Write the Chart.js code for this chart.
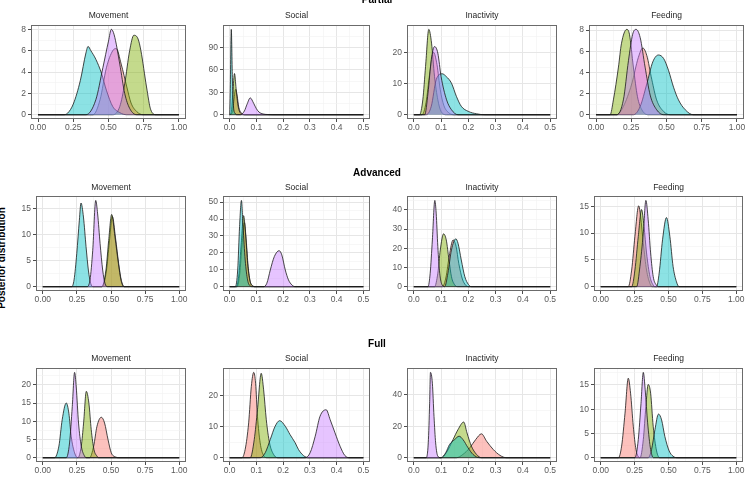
<!DOCTYPE html>
<html>
<head>
<meta charset="utf-8">
<script src="https://cdn.jsdelivr.net/npm/chart.js@4.4.1/dist/chart.umd.min.js"></script>
<style>
  body { margin: 0; background: #fff; width: 752px; height: 501px; overflow: hidden; position: relative;
         font-family: "Liberation Sans", Arial, sans-serif; }
  .panel { position: absolute; }
  .lbl { position: absolute; transform: translate(-50%, -50%); white-space: nowrap; }
</style>
</head>
<body>
<script>
// ---- data: posterior densities, [x, density] ----
const stages = ["Partial", "Advanced", "Full"];
const behaviours = ["Movement", "Social", "Inactivity", "Feeding"];
const groups = ["red", "green", "cyan", "purple"];

const partialMovement = {
  red:    [[0,0],[0.39,0],[0.44,1.4],[0.485,4.4],[0.53,6.0],[0.555,6.2],[0.59,4.75],[0.63,2.6],[0.66,1.1],[0.70,0.3],[0.745,0],[1,0]],
  green:  [[0,0],[0.53,0],[0.58,0.77],[0.615,2.9],[0.65,6.0],[0.68,7.45],[0.71,7.1],[0.73,6.0],[0.77,2.6],[0.80,0.46],[0.84,0],[1,0]],
  cyan:   [[0,0],[0.18,0],[0.21,0.15],[0.25,1.0],[0.30,3.2],[0.34,5.8],[0.355,6.4],[0.375,6.0],[0.41,5.2],[0.45,3.9],[0.485,2.3],[0.53,0.77],[0.58,0.2],[0.63,0],[1,0]],
  purple: [[0,0],[0.34,0],[0.41,1.4],[0.46,4.4],[0.50,6.9],[0.52,8.0],[0.54,7.5],[0.58,4.75],[0.615,2.0],[0.65,0.6],[0.70,0],[1,0]]
};
const partialSocial = {
  red:    [[0,0],[0.01,3],[0.016,20],[0.022,34],[0.028,25],[0.034,10],[0.042,3],[0.05,0.5],[0.06,0],[0.5,0]],
  green:  [[0,0],[0.006,3],[0.012,30],[0.018,55],[0.024,35],[0.03,15],[0.036,5],[0.045,1],[0.055,0],[0.5,0]],
  cyan:   [[0,0],[0.002,30],[0.006,114],[0.010,50],[0.014,12],[0.02,2],[0.028,0],[0.5,0]],
  purple: [[0,0],[0.04,0],[0.055,5],[0.065,14],[0.077,22.5],[0.09,15],[0.10,8],[0.11,3.5],[0.125,1],[0.14,0.3],[0.16,0],[0.5,0]]
};
const partialInactivity = {
  red:    [[0,0],[0.03,0],[0.045,4],[0.058,13],[0.072,20],[0.085,16],[0.097,8],[0.11,3],[0.13,0.5],[0.15,0],[0.5,0]],
  green:  [[0,0],[0.021,0],[0.033,4.8],[0.043,15.4],[0.055,27.3],[0.065,22.9],[0.076,12.2],[0.088,4.8],[0.10,1.06],[0.12,0],[0.5,0]],
  cyan:   [[0,0],[0.045,0],[0.064,2.7],[0.082,11.2],[0.104,13.1],[0.119,12.2],[0.138,10.1],[0.156,5.9],[0.174,2.7],[0.20,1.06],[0.23,0.3],[0.26,0],[0.5,0]],
  purple: [[0,0],[0.04,0],[0.052,6.9],[0.064,17.6],[0.076,21.8],[0.088,19.7],[0.10,12.2],[0.12,4.8],[0.138,1.6],[0.162,0],[0.5,0]]
};
const partialFeeding = {
  red:    [[0,0],[0.147,0],[0.194,0.78],[0.253,2.9],[0.30,5.4],[0.332,6.3],[0.36,5.6],[0.396,3.3],[0.43,1.4],[0.48,0.3],[0.526,0],[1,0]],
  green:  [[0,0],[0.10,0],[0.123,1.4],[0.159,4.5],[0.18,6.7],[0.218,8.06],[0.237,7.6],[0.265,4.5],[0.294,1.7],[0.325,0.47],[0.37,0],[1,0]],
  cyan:   [[0,0],[0.265,0],[0.313,0.78],[0.36,2.9],[0.403,5.0],[0.443,5.64],[0.48,5.3],[0.514,4.2],[0.55,2.6],[0.585,1.4],[0.633,0.47],[0.69,0],[1,0]],
  purple: [[0,0],[0.147,0],[0.194,1.4],[0.23,5.1],[0.26,7.6],[0.284,8.06],[0.313,7.3],[0.348,4.5],[0.384,1.86],[0.43,0.47],[0.48,0],[1,0]]
};

const advancedMovement = {
  red:    [[0,0],[0.435,0],[0.466,3.0],[0.488,8.6],[0.51,13.5],[0.533,9.4],[0.557,4.3],[0.576,1.2],[0.598,0],[1,0]],
  green:  [[0,0],[0.432,0],[0.463,3.2],[0.483,8.9],[0.505,13.9],[0.529,9.6],[0.554,4.5],[0.573,1.3],[0.595,0],[1,0]],
  cyan:   [[0,0],[0.212,0],[0.229,1.3],[0.249,6.4],[0.268,12.8],[0.28,16.1],[0.298,13.4],[0.317,7.7],[0.334,3.2],[0.351,0.64],[0.37,0],[1,0]],
  purple: [[0,0],[0.322,0],[0.346,1.3],[0.366,7.0],[0.388,16.6],[0.402,14.0],[0.42,8.3],[0.439,3.2],[0.456,0.64],[0.473,0],[1,0]]
};
const advancedSocial = {
  red:    [[0,0],[0.028,0],[0.038,8],[0.046,24],[0.055,38],[0.062,27],[0.069,12],[0.077,3],[0.087,0.4],[0.095,0],[0.5,0]],
  green:  [[0,0],[0.025,0],[0.035,8],[0.043,25],[0.052,42],[0.06,30],[0.067,14],[0.075,4],[0.085,0.5],[0.095,0],[0.5,0]],
  cyan:   [[0,0],[0.021,0],[0.03,9.9],[0.037,35.6],[0.044,51],[0.05,35.6],[0.058,15.8],[0.067,4],[0.077,0.4],[0.085,0],[0.5,0]],
  purple: [[0,0],[0.127,0],[0.139,2],[0.152,9.9],[0.167,17.8],[0.185,21.3],[0.195,18.8],[0.208,9.9],[0.22,4],[0.233,1],[0.245,0],[0.5,0]]
};
const advancedInactivity = {
  red:    [[0,0],[0.105,0],[0.118,5],[0.13,16],[0.144,24.3],[0.155,21],[0.165,12],[0.178,4],[0.19,0.8],[0.2,0],[0.5,0]],
  green:  [[0,0],[0.076,0],[0.088,7],[0.097,19.1],[0.109,27.5],[0.119,24.3],[0.129,13.9],[0.138,5.2],[0.15,0.9],[0.16,0],[0.5,0]],
  cyan:   [[0,0],[0.113,0],[0.125,7],[0.138,19.1],[0.154,24.9],[0.162,22.6],[0.174,13.9],[0.187,5.2],[0.2,1.2],[0.211,0],[0.5,0]],
  purple: [[0,0],[0.052,0],[0.06,7],[0.068,24.3],[0.077,44.9],[0.082,38.3],[0.088,20.9],[0.095,7],[0.104,0.9],[0.115,0],[0.5,0]]
};
const advancedFeeding = {
  red:    [[0,0],[0.203,0],[0.228,3.1],[0.252,9.4],[0.28,15.1],[0.294,13.1],[0.314,8.1],[0.338,3.1],[0.363,0.6],[0.38,0],[1,0]],
  green:  [[0,0],[0.228,0],[0.252,3.1],[0.277,9.4],[0.301,14.4],[0.319,11.3],[0.338,6.3],[0.363,1.9],[0.387,0.3],[0.4,0],[1,0]],
  cyan:   [[0,0],[0.412,0],[0.431,2.5],[0.456,8.75],[0.485,12.9],[0.51,9.4],[0.534,3.75],[0.559,0.9],[0.578,0],[1,0]],
  purple: [[0,0],[0.265,0],[0.289,3.75],[0.314,10],[0.333,16.1],[0.35,12.5],[0.368,6.3],[0.387,1.9],[0.412,0.25],[0.43,0],[1,0]]
};

const fullMovement = {
  red:    [[0,0],[0.343,0],[0.373,3.2],[0.397,8.6],[0.429,11.1],[0.453,9.5],[0.478,5],[0.502,1.35],[0.534,0.2],[0.56,0],[1,0]],
  green:  [[0,0],[0.257,0],[0.282,3.2],[0.299,9.5],[0.319,18.2],[0.338,14.9],[0.355,7.7],[0.375,2.25],[0.397,0.45],[0.41,0],[1,0]],
  cyan:   [[0,0],[0.086,0],[0.118,3.2],[0.142,10.4],[0.172,15.0],[0.191,12.2],[0.208,5.9],[0.233,1.35],[0.257,0],[1,0]],
  purple: [[0,0],[0.172,0],[0.196,4.05],[0.216,14],[0.233,23.4],[0.245,19.4],[0.262,9.5],[0.282,3.2],[0.306,0.45],[0.32,0],[1,0]]
};
const fullSocial = {
  red:    [[0,0],[0.046,0],[0.058,2.7],[0.071,11.2],[0.081,22.9],[0.09,27.4],[0.097,23.9],[0.104,13.3],[0.114,4.8],[0.127,0.7],[0.14,0],[0.5,0]],
  green:  [[0,0],[0.077,0],[0.092,5.9],[0.104,15.4],[0.118,27.1],[0.127,21.8],[0.137,12.2],[0.149,4.8],[0.164,1.1],[0.18,0],[0.5,0]],
  cyan:   [[0,0],[0.114,0],[0.133,1.6],[0.152,5.9],[0.17,10.1],[0.187,11.9],[0.208,10.1],[0.226,7.4],[0.245,4.8],[0.257,2.7],[0.276,0.7],[0.295,0],[0.5,0]],
  purple: [[0,0],[0.282,0],[0.301,1.6],[0.32,6.9],[0.338,13.3],[0.361,15.4],[0.376,12.2],[0.394,8],[0.413,3.7],[0.431,0.7],[0.45,0],[0.5,0]]
};
const fullInactivity = {
  red:    [[0,0],[0.156,0],[0.18,2.1],[0.205,6.3],[0.227,11.6],[0.248,15.2],[0.267,10.5],[0.291,5.3],[0.316,1.5],[0.34,0],[0.5,0]],
  green:  [[0,0],[0.1,0],[0.119,3.2],[0.144,11.6],[0.162,17.9],[0.183,22.7],[0.195,15.8],[0.211,7.4],[0.23,2.1],[0.248,0],[0.5,0]],
  cyan:   [[0,0],[0.1,0],[0.117,3.2],[0.131,8.4],[0.15,11.6],[0.166,13.7],[0.18,11.6],[0.199,6.3],[0.217,2.1],[0.242,0],[0.5,0]],
  purple: [[0,0],[0.045,0],[0.053,9.5],[0.058,34.7],[0.061,54.3],[0.068,47.4],[0.074,26.3],[0.08,9.5],[0.088,1],[0.1,0],[0.5,0]]
};
const fullFeeding = {
  red:    [[0,0],[0.13,0],[0.154,2.4],[0.179,9.2],[0.203,16.4],[0.22,13.3],[0.24,6.5],[0.26,1.7],[0.29,0],[1,0]],
  green:  [[0,0],[0.29,0],[0.314,3.75],[0.333,10.6],[0.35,15.1],[0.368,13.3],[0.387,6.5],[0.412,1.4],[0.436,0],[1,0]],
  cyan:   [[0,0],[0.35,0],[0.375,1.7],[0.4,5.8],[0.426,9.0],[0.449,7.8],[0.473,4.4],[0.505,1.4],[0.534,0.3],[0.57,0],[1,0]],
  purple: [[0,0],[0.252,0],[0.277,3.75],[0.297,11.2],[0.314,17.6],[0.328,14],[0.346,7.2],[0.368,1.7],[0.39,0],[1,0]]
};

// tick labels
const xTicksUnit = [0, 0.25, 0.5, 0.75, 1];
const xTicksHalf = [0, 0.1, 0.2, 0.3, 0.4, 0.5];
const yTicksPartial  = [[0,2,4,6,8], [0,30,60,90], [0,10,20], [0,2,4,6,8]];
const yTicksAdvanced = [[0,5,10,15], [0,10,20,30,40,50], [0,10,20,30,40], [0,5,10,15]];
const yTicksFull     = [[0,5,10,15,20], [0,10,20], [0,20,40], [0,5,10,15]];

// ---- layout / style ----
const panels = [
  [partialMovement, partialSocial, partialInactivity, partialFeeding],
  [advancedMovement, advancedSocial, advancedInactivity, advancedFeeding],
  [fullMovement, fullSocial, fullInactivity, fullFeeding]
];
const yTicksAll = [yTicksPartial, yTicksAdvanced, yTicksFull];
const xTicksFor = [xTicksUnit, xTicksHalf, xTicksHalf, xTicksUnit];
const xDecimals = [2, 1, 1, 2];

const rowBox = [[24, 119], [195, 291], [367, 462]];
const colBox = [
  [[31, 186], [223, 370], [407, 557], [589, 744]],
  [[36, 186], [223, 370], [407, 557], [594, 743]],
  [[36, 186], [223, 370], [407, 557], [594, 743]]
];
const titleY = [15, 186.5, 358];
const rowTitleY = [-1, 171.5, 343];

const fills = {
  red: "rgba(248,118,109,0.45)",
  green: "rgba(124,174,0,0.45)",
  cyan: "rgba(0,191,196,0.45)",
  purple: "rgba(199,124,255,0.45)"
};
const FONT = '"Liberation Sans", Arial, sans-serif';

function addLabel(text, x, y, css) {
  const d = document.createElement("div");
  d.className = "lbl";
  d.textContent = text;
  d.style.left = x + "px";
  d.style.top = y + "px";
  Object.assign(d.style, css);
  document.body.appendChild(d);
}

// major + minor break values (ggplot style)
function withMinor(major, lo, hi) {
  const step = major[1] - major[0];
  const out = major.slice();
  for (let i = -1; i < major.length; i++) {
    const m = (i < 0 ? major[0] - step / 2 : major[i] + step / 2);
    out.push(+m.toFixed(6));
  }
  return out.filter(v => v >= lo && v <= hi).sort((a, b) => a - b);
}
const isIn = (arr, v) => arr.some(a => Math.abs(a - v) < 1e-9);

const frame = {
  id: "frame",
  afterDatasetsDraw(chart) {
    const a = chart.chartArea, c = chart.ctx;
    c.save();
    c.strokeStyle = "#6b6b6b";
    c.lineWidth = 1;
    c.strokeRect(Math.round(a.left) + 0.5, Math.round(a.top) + 0.5,
                 Math.round(a.right - a.left) - 1, Math.round(a.bottom - a.top) - 1);
    c.restore();
  }
};

function makePanel(r, c) {
  const data = panels[r][c];
  const [l, rr] = colBox[r][c];
  const [t, b] = rowBox[r];
  const YW = 26, XH = 18, PT = 6, PR = 12;
  const w = rr - l + YW + PR, h = b - t + PT + XH;

  const wrap = document.createElement("div");
  wrap.className = "panel";
  wrap.style.left = (l - YW) + "px";
  wrap.style.top = (t - PT) + "px";
  const cv = document.createElement("canvas");
  cv.width = w; cv.height = h;
  cv.style.width = w + "px"; cv.style.height = h + "px";
  wrap.appendChild(cv);
  document.body.appendChild(wrap);

  const xt = xTicksFor[c];
  const xmax0 = xt[xt.length - 1];
  const xmin = -0.05 * xmax0, xmax = 1.05 * xmax0;
  let ytop = 0;
  groups.forEach(g => data[g].forEach(p => { ytop = Math.max(ytop, p[1]); }));
  const ymin = -0.05 * ytop, ymax = 1.05 * ytop;
  const yt = yTicksAll[r][c];

  const gridOpts = (major) => ({
    color: ctx => isIn(major, ctx.tick.value) ? "#e6e6e6" : "#f2f2f2",
    lineWidth: ctx => isIn(major, ctx.tick.value) ? 1 : 0.6,
    tickLength: 3,
    tickColor: ctx => isIn(major, ctx.tick.value) ? "#4d4d4d" : "rgba(0,0,0,0)",
    drawTicks: true
  });

  new Chart(cv, {
    type: "line",
    data: {
      datasets: groups.map((g, i) => ({
        label: g,
        data: data[g].map(p => ({ x: p[0], y: p[1] })),
        order: groups.length - 1 - i,
        fill: "origin",
        backgroundColor: fills[g],
        borderColor: "#1a1a1a",
        borderWidth: 0.8,
        pointRadius: 0,
        cubicInterpolationMode: "monotone"
      }))
    },
    options: {
      responsive: false,
      animation: false,
      layout: { padding: { top: PT, right: PR, left: 0, bottom: 0 } },
      plugins: { legend: { display: false }, tooltip: { enabled: false } },
      scales: {
        x: {
          type: "linear", min: xmin, max: xmax,
          afterBuildTicks: s => { s.ticks = withMinor(xt, xmin, xmax).map(v => ({ value: v })); },
          afterFit: s => { s.height = XH; },
          ticks: {
            autoSkip: false, maxRotation: 0, padding: 1, color: "#595959",
            font: { size: 8.5, family: FONT },
            callback: v => isIn(xt, v) ? v.toFixed(xDecimals[c]) : ""
          },
          grid: gridOpts(xt),
          border: { display: false }
        },
        y: {
          type: "linear", min: ymin, max: ymax,
          afterBuildTicks: s => { s.ticks = withMinor(yt, ymin, ymax).map(v => ({ value: v })); },
          afterFit: s => { s.width = YW; },
          ticks: {
            autoSkip: false, padding: 2, color: "#595959",
            font: { size: 8.5, family: FONT },
            callback: v => isIn(yt, v) ? String(v) : ""
          },
          grid: gridOpts(yt),
          border: { display: false }
        }
      }
    },
    plugins: [frame]
  });

  addLabel(behaviours[c], (l + rr) / 2, titleY[r], { fontSize: "8.5px", color: "#262626" });
}

for (let r = 0; r < 3; r++) {
  for (let c = 0; c < 4; c++) makePanel(r, c);
  addLabel(stages[r], 377, rowTitleY[r], { fontSize: "10px", fontWeight: "bold", color: "#000" });
}
addLabel("Posterior distribution", 1, 258,
  { fontSize: "10px", fontWeight: "bold", color: "#000", transform: "translate(-50%,-50%) rotate(-90deg)" });
</script>
</body>
</html>
